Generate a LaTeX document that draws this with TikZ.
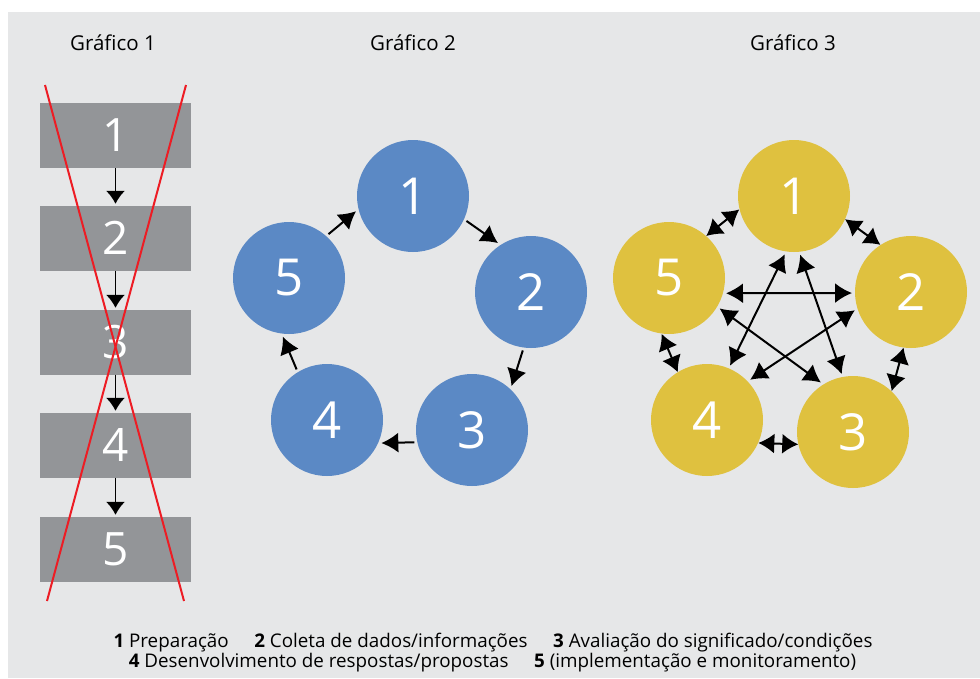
\documentclass[tikz,border=0pt]{standalone}
\usepackage{fontspec}
\setmainfont{Open Sans}
\usetikzlibrary{arrows.meta}
\definecolor{fundo}{HTML}{E6E7E8}
\definecolor{cinza}{HTML}{939598}
\definecolor{azul}{HTML}{5B89C5}
\definecolor{ouro}{HTML}{DFC13F}
\definecolor{risco}{HTML}{ED1C24}
\begin{document}
\begin{tikzpicture}[x=1pt,y=-1pt,
  caixa/.style={rectangle,fill=cinza,minimum width=151pt,minimum height=65pt,inner sep=0pt,text=white,font=\fontsize{46}{46}\selectfont},
  bola/.style={circle,minimum size=112pt,inner sep=0pt,outer sep=3pt,text=white,font=\fontsize{51}{51}\selectfont},
  seta/.style={line width=2pt,-{Latex[length=17pt,width=20pt]}},
  dupla/.style={line width=2pt,{Latex[length=17pt,width=20pt]}-{Latex[length=17pt,width=20pt]}},
  curta/.style={dupla,{Latex[length=16pt,width=20pt]}-{Latex[length=16pt,width=20pt]},shorten >=-3pt,shorten <=-3pt},
  titulo/.style={font=\fontsize{20.5}{24}\selectfont}]
\fill[white] (0,0) rectangle (980,678);
\fill[fundo] (8,12) rectangle (980,678);

\node[titulo] (t1) at (113,43){Gráfico 1};
\node[titulo] (t2) at (413,43){Gráfico 2};
\node[titulo] (t3) at (793,43){Gráfico 3};

% grafico 1
\foreach \i/\y in {1/135.5,2/238,3/342,4/445,5/549}
{
    \node[caixa] (r\i) at (115.5,\y){\i};
}
\foreach \i/\j in {1/2,2/3,3/4,4/5}
{
    \draw[line width=1.4pt,-{Latex[length=13pt,width=19pt]},shorten >=1.5pt] (r\i.south)--(r\j.north);
}
\draw[risco,line width=2pt] (45,85)--(184,601);
\draw[risco,line width=2pt] (186,85)--(47,601);

% grafico 2
\node[bola,fill=azul] (b1) at (413,196){1};
\node[bola,fill=azul] (b2) at (531,292){2};
\node[bola,fill=azul] (b3) at (472,430){3};
\node[bola,fill=azul] (b4) at (327,420){4};
\node[bola,fill=azul] (b5) at (289,278){5};

\draw[seta] (b1.-25)--(b2.124);
\draw[seta] (b2.-98)--(b3.48);
\draw[seta] (b3.192)--(b4.-23);
\draw[seta] (b4.121)--(b5.-96);
\draw[seta] (b5.48)--(b1.195);

% grafico 3
\node[bola,fill=ouro] (g1) at (794,196){1};
\node[bola,fill=ouro] (g2) at (911,292){2};
\node[bola,fill=ouro] (g3) at (853,432){3};
\node[bola,fill=ouro] (g4) at (707,420){4};
\node[bola,fill=ouro] (g5) at (669,278){5};

\draw[curta] (g1.-25)--(g2.124);
\draw[curta] (g2.-98)--(g3.48);
\draw[curta] (g3.192)--(g4.-23);
\draw[curta] (g4.121)--(g5.-96);
\draw[curta] (g5.48)--(g1.195);

\draw[dupla] (g5.-15)--(g2.181);
\draw[dupla] (g5.-31)--(g3.123);
\draw[dupla] (g1.-99)--(g4.67);
\draw[dupla] (g1.-84)--(g3.101);
\draw[dupla] (g2.198)--(g4.43);

\node[anchor=base,font=\fontsize{18.8}{22}\selectfont] (leg1) at (493,647){\textbf{1} Preparação\hspace{1.1em} \textbf{2} Coleta de dados/informações\hspace{1.1em} \textbf{3} Avaliação do significado/condições};
\node[anchor=base,font=\fontsize{18.8}{22}\selectfont] (leg2) at (492.5,667){\textbf{4} Desenvolvimento de respostas/propostas\hspace{1.1em} \textbf{5} (implementação e monitoramento)};
\end{tikzpicture}
\end{document}
